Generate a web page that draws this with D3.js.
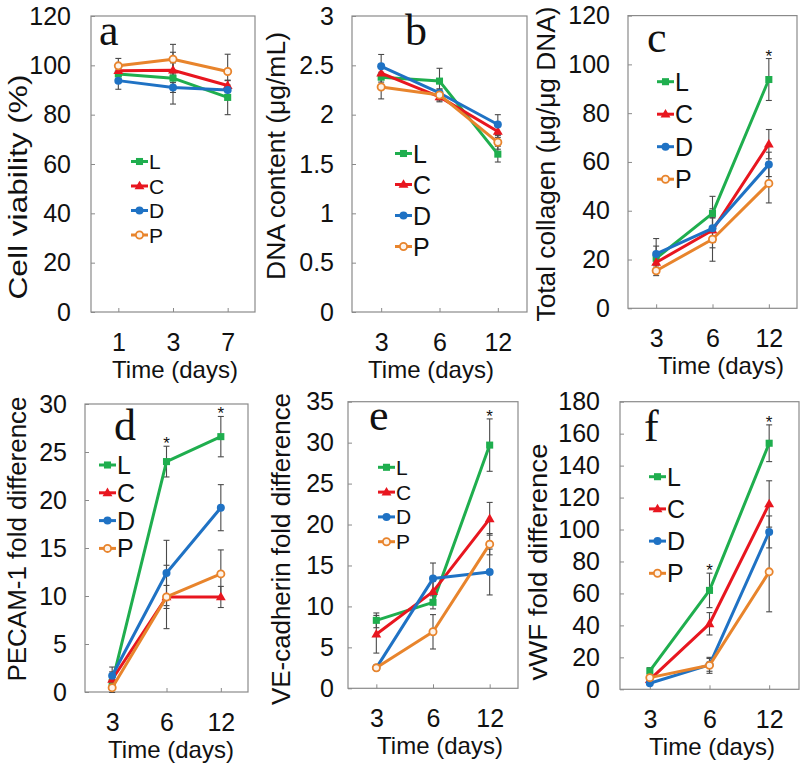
<!DOCTYPE html>
<html>
<head>
<meta charset="utf-8">
<script src="https://cdn.jsdelivr.net/npm/d3@7"></script>
<style>
  html, body { margin: 0; padding: 0; background: #fff; }
  svg { display: block; }
  text { font-family: "Liberation Sans", Arial, sans-serif; fill: #111; }
  text.letter { font-family: "Liberation Serif", "Times New Roman", serif; }
</style>
</head>
<body>
<svg id="chart" width="800" height="768"></svg>
<script>
// ---------- data ----------
const groups = ["L", "C", "D", "P"];
const daysA = ["1", "3", "7"];
const daysB = ["3", "6", "12"];

// panel a: Cell viability (%)
const aL = [96.5, 94.8, 87.0],  aLerr = [2.0, 10.5, 7.0];
const aC = [97.8, 98.0, 91.8],  aCerr = [2.0, 3.0, 2.0];
const aD = [93.8, 91.0, 90.0],  aDerr = [3.5, 2.0, 2.0];
const aP = [99.8, 102.5, 97.5], aPerr = [3.0, 6.0, 7.0];

// panel b: DNA content (µg/mL)
const bL = [2.38, 2.34, 1.60], bLerr = [0.05, 0.13, 0.08];
const bC = [2.42, 2.18, 1.83], bCerr = [0.05, 0.05, 0.06];
const bD = [2.49, 2.22, 1.90], bDerr = [0.12, 0.04, 0.10];
const bP = [2.28, 2.20, 1.72], bPerr = [0.12, 0.06, 0.07];

// panel c: Total collagen
const cL = [20.5, 38.9, 93.8], cLerr = [5.0, 7.0, 8.6];
const cC = [18.8, 32.0, 67.3], cCerr = [3.0, 5.0, 6.0];
const cD = [22.3, 32.8, 59.0], cDerr = [6.3, 8.0, 5.0];
const cP = [15.4, 28.3, 51.2], cPerr = [2.0, 9.0, 8.0];
const cStar = [false, false, true];

// panel d: PECAM-1
const dL = [1.0, 24.0, 26.6],  dLerr = [0.5, 1.6, 2.1];
const dC = [1.3, 9.9, 9.9],    dCerr = [0.8, 1.2, 1.1];
const dD = [1.7, 12.4, 19.2],  dDerr = [0.9, 3.4, 2.4];
const dP = [0.45, 9.9, 12.3],  dPerr = [0.5, 3.3, 2.5];
const dStar = [false, true, true];

// panel e: VE-cadherin
const eL = [8.3, 10.5, 29.7],  eLerr = [0.9, 0.8, 3.2];
const eC = [6.6, 11.8, 20.7],  eCerr = [2.3, 1.3, 2.0];
const eD = [2.5, 13.4, 14.2],  eDerr = [0.3, 1.9, 2.8];
const eP = [2.5, 6.9, 17.6],   ePerr = [0.3, 2.1, 1.3];
const eStar = [false, false, true];

// panel f: vWF
const fL = [11.5, 61.9, 154.0], fLerr = [2.0, 10.8, 11.5];
const fC = [6.0, 41.0, 116.0],  fCerr = [2.0, 7.0, 14.5];
const fD = [3.8, 15.3, 98.5],   fDerr = [1.0, 4.0, 10.0];
const fP = [7.3, 15.0, 73.5],   fPerr = [1.5, 5.0, 25.0];
const fStar = [false, true, true];

// tick values
const ticksA = [0, 20, 40, 60, 80, 100, 120];
const ticksB = [0, 0.5, 1, 1.5, 2, 2.5, 3];
const ticksC = [0, 20, 40, 60, 80, 100, 120];
const ticksD = [0, 5, 10, 15, 20, 25, 30];
const ticksE = [0, 5, 10, 15, 20, 25, 30, 35];
const ticksF = [0, 20, 40, 60, 80, 100, 120, 140, 160, 180];

// ---------- styling ----------
const colors = { L: "#1fae4e", C: "#e8161f", D: "#1f72c4", P: "#e8842c" };

const svg = d3.select("#chart");
svg.append("rect").attr("width", 800).attr("height", 768).attr("fill", "#fff");

function drawMarker(g, grp, x, y) {
  const c = colors[grp];
  if (grp === "L") {
    g.append("path").attr("d", d3.symbol(d3.symbolSquare, 50)()).attr("transform", `translate(${x},${y})`).attr("fill", c);
  } else if (grp === "C") {
    g.append("path").attr("d", d3.symbol(d3.symbolTriangle, 42)()).attr("transform", `translate(${x},${y+0.5})`).attr("fill", c);
  } else if (grp === "D") {
    g.append("circle").attr("cx", x).attr("cy", y).attr("r", 4).attr("fill", c);
  } else {
    g.append("circle").attr("cx", x).attr("cy", y).attr("r", 3.6).attr("fill", "#fdf3ea").attr("stroke", c).attr("stroke-width", 1.8);
  }
}

function drawPanel(p) {
  const g = svg.append("g");
  const x = d3.scalePoint().domain(p.days).range([p.x0, p.x1]).padding(0.5);
  const y = d3.scaleLinear().domain([0, p.ymax]).range([p.y1, p.y0]);

  // frame
  g.append("rect").attr("x", p.x0).attr("y", p.y0).attr("width", p.x1 - p.x0).attr("height", p.y1 - p.y0)
    .attr("fill", "none").attr("stroke", "#8a8a8a").attr("stroke-width", 1.2);

  // y axis
  const ya = g.append("g").attr("transform", `translate(${p.x0},0)`)
    .call(d3.axisLeft(y).tickValues(p.ticks).tickSize(-4).tickPadding(p.tickPad).tickFormat(d => String(d)));
  ya.select(".domain").remove();
  ya.selectAll(".tick line").attr("stroke", "#8a8a8a");
  ya.selectAll(".tick text").style("font-size", "25px").attr("fill", "#111");

  // x axis
  const xa = g.append("g").attr("transform", `translate(0,${p.y1})`)
    .call(d3.axisBottom(x).tickSize(-4).tickPadding(21));
  xa.select(".domain").remove();
  xa.selectAll(".tick line").attr("stroke", "#8a8a8a");
  xa.selectAll(".tick text").style("font-size", "25px").attr("fill", "#111");

  // axis titles
  g.append("text").attr("x", p.xtX).attr("y", p.y1 + 66).attr("text-anchor", "middle")
    .style("font-size", "24px").text("Time (days)");
  g.append("text").attr("transform", `translate(${p.ytX},${p.ytY}) rotate(-90)`)
    .attr("text-anchor", "middle").attr("dy", "0.35em").style("font-size", "26px")
    .attr("textLength", p.ytLen).attr("lengthAdjust", "spacingAndGlyphs").text(p.ytitle);

  // panel letter
  g.append("text").attr("class", "letter").attr("x", p.letX).attr("y", p.letY)
    .style("font-size", "44px").text(p.letter);

  // error bars
  groups.forEach(grp => {
    const vals = p.series[grp], errs = p.errs[grp];
    vals.forEach((v, i) => {
      const cx = x(p.days[i]);
      const e = errs[i];
      const eg = g.append("g").attr("stroke", "#4a4a4a").attr("stroke-width", 1.1);
      eg.append("line").attr("x1", cx).attr("x2", cx).attr("y1", y(v - e)).attr("y2", y(v + e));
      eg.append("line").attr("x1", cx - 3).attr("x2", cx + 3).attr("y1", y(v - e)).attr("y2", y(v - e));
      eg.append("line").attr("x1", cx - 3).attr("x2", cx + 3).attr("y1", y(v + e)).attr("y2", y(v + e));
    });
  });

  // lines + markers
  groups.forEach(grp => {
    const vals = p.series[grp];
    const line = d3.line().x((d, i) => x(p.days[i])).y(d => y(d));
    g.append("path").datum(vals).attr("d", line).attr("fill", "none")
      .attr("stroke", colors[grp]).attr("stroke-width", 3).attr("stroke-linejoin", "round");
    vals.forEach((v, i) => drawMarker(g, grp, x(p.days[i]), y(v)));
  });

  // significance stars
  if (p.star) {
    p.star.forEach((s, i) => {
      if (!s) return;
      const top = p.series.L[i] + p.errs.L[i];
      g.append("text").attr("x", x(p.days[i])).attr("y", y(top) + 3).attr("text-anchor", "middle")
        .style("font-size", "17px").attr("fill", "#222").text("*");
    });
  }

  // legend
  groups.forEach((grp, k) => {
    const ly = p.legY + k * p.legDy;
    g.append("line").attr("x1", p.legX).attr("x2", p.legX + 17).attr("y1", ly).attr("y2", ly)
      .attr("stroke", colors[grp]).attr("stroke-width", 3);
    drawMarker(g, grp, p.legX + 8.5, ly);
    g.append("text").attr("x", p.legX + 18).attr("y", ly).attr("dy", "0.36em")
      .style("font-size", p.legFont + "px").text(grp);
  });
}

const panels = [
  { letter: "a", days: daysA, x0: 91, x1: 255, y0: 16, y1: 312, ymax: 120, ticks: ticksA, tickPad: 20,
    series: { L: aL, C: aC, D: aD, P: aP }, errs: { L: aLerr, C: aCerr, D: aDerr, P: aPerr },
    ytitle: "Cell  viability (%)", ytX: 18, ytY: 187, ytLen: 225, xtX: 175, letX: 99, letY: 45,
    legX: 131, legY: 161.5, legDy: 24.5, legFont: 21 },
  { letter: "b", days: daysB, x0: 352, x1: 527, y0: 16, y1: 312, ymax: 3, ticks: ticksB, tickPad: 18,
    series: { L: bL, C: bC, D: bD, P: bP }, errs: { L: bLerr, C: bCerr, D: bDerr, P: bPerr },
    ytitle: "DNA content (μg/mL)", ytX: 276, ytY: 156, ytLen: 248, xtX: 431, letX: 405, letY: 45,
    legX: 395, legY: 153.5, legDy: 31, legFont: 25 },
  { letter: "c", days: daysB, x0: 628, x1: 797, y0: 15.6, y1: 308.3, ymax: 120, ticks: ticksC, tickPad: 18,
    series: { L: cL, C: cC, D: cD, P: cP }, errs: { L: cLerr, C: cCerr, D: cDerr, P: cPerr }, star: cStar,
    ytitle: "Total collagen (μg/μg DNA)", ytX: 546, ytY: 164, ytLen: 315, xtX: 721, letX: 647, letY: 52,
    legX: 657, legY: 81.7, legDy: 32.5, legFont: 25 },
  { letter: "d", days: daysB, x0: 85, x1: 248, y0: 404, y1: 692, ymax: 30, ticks: ticksD, tickPad: 18,
    series: { L: dL, C: dC, D: dD, P: dP }, errs: { L: dLerr, C: dCerr, D: dDerr, P: dPerr }, star: dStar,
    ytitle: "PECAM-1 fold difference", ytX: 17, ytY: 539, ytLen: 285, xtX: 171, letX: 114, letY: 440,
    legX: 99, legY: 465, legDy: 27.8, legFont: 25 },
  { letter: "e", days: daysB, x0: 348, x1: 518, y0: 401.7, y1: 688.3, ymax: 35, ticks: ticksE, tickPad: 14,
    series: { L: eL, C: eC, D: eD, P: eP }, errs: { L: eLerr, C: eCerr, D: eDerr, P: ePerr }, star: eStar,
    ytitle: "VE-cadherin fold difference", ytX: 281, ytY: 549, ytLen: 312, xtX: 440, letX: 369, letY: 430,
    legX: 378, legY: 467.3, legDy: 24.8, legFont: 21 },
  { letter: "f", days: daysB, x0: 620, x1: 799, y0: 401.7, y1: 689.3, ymax: 180, ticks: ticksF, tickPad: 20,
    series: { L: fL, C: fC, D: fD, P: fP }, errs: { L: fLerr, C: fCerr, D: fDerr, P: fPerr }, star: fStar,
    ytitle: "vWF fold difference", ytX: 538, ytY: 562, ytLen: 237, xtX: 712, letX: 644, letY: 441,
    legX: 649, legY: 476.7, legDy: 32.2, legFont: 25 }
];

panels.forEach(drawPanel);
</script>
</body>
</html>
